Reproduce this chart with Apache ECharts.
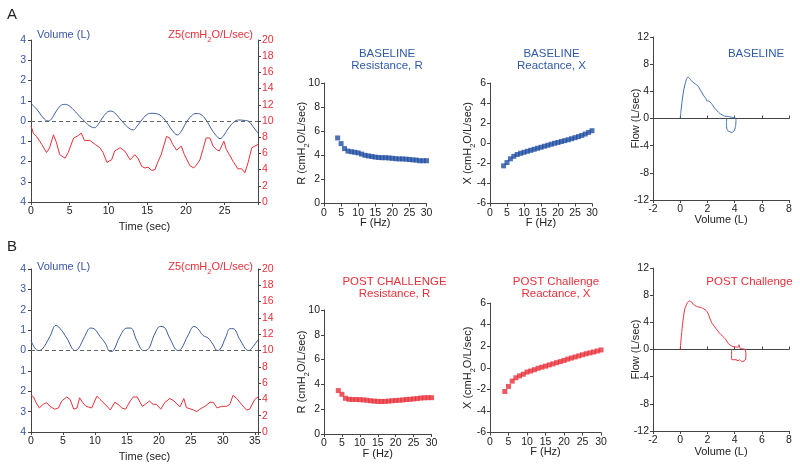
<!DOCTYPE html>
<html><head><meta charset="utf-8">
<script src="https://cdn.jsdelivr.net/npm/echarts@6/dist/echarts.min.js"></script>
<style>html,body{margin:0;padding:0;background:#fff}#c{width:800px;height:469px}</style>
</head><body><div id="c"></div>
<script>
// ---------- DATA ----------
// Panel A time series (baseline)
const volA_t = [0,0.8,1.6,2.2,2.6,3.2,3.8,4.3,4.8,5.5,6.3,7.0,7.6,8.2,8.7,9.3,9.9,10.3,10.8,11.5,12.2,12.8,13.2,13.7,14.3,14.9,15.5,16.2,16.8,17.5,18.2,18.9,19.4,20.0,20.7,21.3,21.9,22.6,23.3,23.9,24.4,24.9,25.5,26.2,26.8,27.5,28.1,28.7,29.3];
const volA_v = [0.87,0.55,0.15,0.0,0.08,0.45,0.75,0.82,0.78,0.55,0.22,-0.05,-0.25,-0.33,-0.15,0.2,0.45,0.49,0.4,0.1,-0.2,-0.4,-0.44,-0.25,0.05,0.3,0.38,0.36,0.25,-0.05,-0.45,-0.69,-0.5,-0.1,0.25,0.37,0.33,0.05,-0.4,-0.72,-0.87,-0.7,-0.35,-0.05,0.05,0.03,-0.02,-0.3,-0.6];
const z5A_t = [0,0.3,0.7,1.4,2.0,2.4,2.9,3.3,3.7,4.4,4.8,5.5,6.1,6.5,6.9,7.6,8.3,8.9,9.3,9.8,10.4,10.8,11.5,12.1,12.8,13.4,13.8,14.3,14.7,15.1,15.6,16.0,16.4,16.8,17.5,17.9,18.3,18.8,19.4,19.8,20.5,21.0,21.3,21.8,22.2,22.6,23.1,23.5,23.9,24.3,24.9,25.2,25.6,26.1,26.7,27.2,27.6,28.0,28.5,28.9,29.3];
const z5A_v = [9.4,8.5,8.1,7.1,6.1,6.7,8.3,7.3,5.85,5.4,6.1,7.9,8.2,8.5,7.6,7.6,7.1,6.7,6.1,4.9,5.2,6.3,6.7,6.3,5.2,5.85,5.4,4.4,4.2,4.3,3.9,4.0,5.0,5.85,8.1,7.9,7.1,6.4,6.9,5.85,4.5,4.2,4.5,5.2,6.5,7.9,7.9,6.9,6.5,6.3,7.5,6.5,5.85,5.0,4.1,4.1,3.6,4.8,6.7,6.9,7.1];
// Panel B time series (post challenge)
const volB_t = [0,1.1,1.7,2.96,3.9,4.5,5.6,6.9,7.4,8.4,9.3,9.85,10.8,11.6,12.4,12.9,13.9,15.0,15.6,16.5,17.6,18.2,19.4,20.2,20.8,21.7,23.0,23.5,24.6,25.5,26.1,26.9,27.7,28.5,29.1,29.5,30.5,31.1,31.6,32.7,34.0,34.3,35.5];
const volB_v = [0.49,0.0,0.05,0.69,1.23,1.1,0.61,0.0,0.08,0.69,1.1,1.07,0.69,0.36,-0.05,0.0,0.69,1.1,1.1,0.52,0.0,0.03,0.85,1.18,1.15,0.6,0.0,0.08,0.77,1.18,1.07,0.74,0.61,0.28,0.0,0.03,0.69,1.07,1.07,0.52,0.0,0.03,0.52];
const z5B_t = [0,0.4,0.8,1.3,1.9,2.45,2.96,3.7,4.3,4.8,5.6,6.1,6.7,7.2,7.6,8.1,8.6,9.5,10.3,10.8,11.6,12.4,13.1,13.6,14.2,14.8,15.5,16.0,16.6,17.4,17.9,18.5,19.1,19.6,20.3,20.9,21.7,22.2,23.3,23.9,24.3,25.4,25.9,26.4,27.2,28.0,28.5,29.1,29.8,30.6,31.1,31.6,32.2,32.9,33.7,34.2,35.0,35.5];
const z5B_v = [4.5,4.3,3.6,2.95,3.4,3.6,3.15,2.8,2.95,3.8,4.3,4.0,2.8,2.95,4.2,3.6,3.15,2.95,4.4,4.0,3.4,2.7,3.65,3.4,2.95,2.8,3.8,4.3,4.3,3.15,3.4,3.8,3.4,3.4,2.8,3.6,4.1,3.9,3.1,4.1,3.0,2.7,2.5,2.8,3.15,3.65,3.65,2.95,3.15,3.15,3.4,4.5,4.1,3.4,2.7,2.8,4.0,4.3];
// Oscillometry spectra
const freqHz = [4,5,6,7,8,9,10,11,12,13,14,15,16,17,18,19,20,21,22,23,24,25,26,27,28,29,30];
const resA = [5.44,4.97,4.56,4.35,4.3,4.25,4.2,4.1,4.0,3.95,3.9,3.85,3.82,3.8,3.8,3.78,3.75,3.72,3.7,3.7,3.68,3.65,3.62,3.6,3.55,3.55,3.55];
const reaA = [-2.25,-1.92,-1.55,-1.3,-1.12,-1.0,-0.9,-0.8,-0.7,-0.6,-0.5,-0.4,-0.3,-0.2,-0.1,0.0,0.08,0.17,0.26,0.35,0.45,0.56,0.66,0.78,0.92,1.08,1.25];
const resB = [3.5,3.2,2.88,2.8,2.78,2.78,2.77,2.75,2.72,2.68,2.65,2.63,2.62,2.63,2.65,2.68,2.7,2.72,2.75,2.78,2.8,2.83,2.86,2.9,2.92,2.93,2.93];
const reaB = [-2.2,-1.73,-1.24,-0.93,-0.75,-0.6,-0.4,-0.3,-0.18,-0.05,0.05,0.15,0.26,0.36,0.47,0.57,0.68,0.8,0.9,1.0,1.1,1.2,1.3,1.38,1.46,1.55,1.65];
// Flow-volume loops
const fvA_vol = [0,0.05,0.15,0.26,0.4,0.5,0.62,0.75,0.9,1.1,1.32,1.57,1.75,1.9,1.95,2.05,2.3,2.55,2.9,3.27,3.5,3.65,3.85,4.0,4.08,4.1,4.08,4.0,3.9,3.8,3.65,3.5,3.42,3.4,3.42];
const fvA_flow = [0,1.0,2.7,4.2,5.4,6.0,6.05,5.75,5.4,5.1,4.75,3.9,3.3,2.9,2.6,2.6,2.2,1.5,0.75,0.35,0.3,0.25,0.15,0.1,0.05,-0.3,-1.0,-1.7,-1.95,-2.05,-1.95,-1.8,-1.4,-0.6,0.05];
const fvB_vol = [0,0.1,0.22,0.34,0.52,0.66,0.84,0.96,1.2,1.57,1.9,2.06,2.3,2.55,2.9,3.3,3.55,3.8,4.15,4.3,4.32,4.4,4.6,4.77,4.83,4.82,4.7,4.5,4.35,4.25,4.1,3.95,3.8,3.78,3.78];
const fvB_flow = [0,2.3,4.5,6.0,6.85,7.15,7.0,6.65,6.35,6.15,5.75,5.25,4.0,3.3,2.4,1.6,0.85,0.5,0.35,0.4,0.7,0.2,0.1,0,-0.5,-1.4,-1.7,-1.75,-1.5,-1.65,-1.5,-1.5,-1.5,-0.7,0];
// Tick settings
const tsVolTicks = [-4,4,1];
const tsZTicks = [0,20,2];
const specXTicks = [0,30,5];
const resTicks = [0,10,2];
const reaTicks = [-6,6,2];
const fvXTicks = [-2,8,2];
const fvYTicks = [-12,12,4];

// ---------- STYLE ----------
const FONT = '"Liberation Sans", Arial, sans-serif';
const BLUE_TXT = '#2f5aa8', BLUE_AX = '#3a55a5', BLUE_LINE = '#3b5a9d', BLUE_MARK = '#1f4ea3', BLUE_FV = '#3f6db5';
const RED = '#e8303a', AX = '#444', TXT = '#222';
const zip = (a, b) => a.map((v, i) => [v, b[i]]);

const grids = [
  {left:31, top:40, width:227, height:162},
  {left:324, top:83, width:102.5, height:120.5},
  {left:490, top:83, width:102, height:120.5},
  {left:653, top:37, width:136, height:163},
  {left:31, top:269, width:227, height:163},
  {left:324, top:310, width:107.5, height:124},
  {left:490, top:303, width:111, height:129.5},
  {left:653, top:268, width:136, height:163}
];

const subRich = (color, size) => ({
  a: {fontSize: size, fontFamily: FONT, color: color, lineHeight: size + 5},
  s: {fontSize: size * 0.68, fontFamily: FONT, color: color, lineHeight: 5, verticalAlign: 'bottom'}
});

function axisBase(gi, ticks, labelColor, extra) {
  return Object.assign({
    gridIndex: gi, type: 'value', min: ticks[0], max: ticks[1], interval: ticks[2],
    nameMoveOverlap: false,
    splitLine: {show: false},
    axisLine: {show: true, onZero: false, lineStyle: {color: AX, width: 1}},
    axisTick: {show: true, length: 3, lineStyle: {color: AX}},
    axisLabel: {color: labelColor, fontSize: 10.5, fontFamily: FONT, margin: 4}
  }, extra || {});
}
const xName = (name, gap) => ({name: name, nameLocation: 'middle', nameGap: gap,
  nameTextStyle: {color: TXT, fontSize: 11, fontFamily: FONT}});
const yNameRich = (gap) => ({nameLocation: 'middle', nameGap: gap, nameRotate: 90,
  nameTextStyle: {color: TXT, rich: subRich(TXT, 11)}});

const mult = (m) => (v) => (Math.abs(v / m - Math.round(v / m)) < 1e-6 ? String(v) : '');

const xAxes = [
  axisBase(0, [0, 29.3, 5], TXT, Object.assign(xName('Time (sec)', 19), {axisLabel:{color:TXT,fontSize:10.5,fontFamily:FONT,margin:4,formatter:mult(5)}})),
  axisBase(1, specXTicks, TXT, xName('F (Hz)', 14)),
  axisBase(2, specXTicks, TXT, xName('F (Hz)', 14)),
  axisBase(3, fvXTicks, TXT, xName('Volume (L)', 14.5)),
  axisBase(3, fvXTicks, TXT, {position: 'top', axisLine: {show: true, onZero: true, lineStyle: {color: AX}}, axisLabel: {show: false}, axisTick: {show: true, length: 3, lineStyle:{color: AX}}}),
  axisBase(4, [0, 35.5, 5], TXT, Object.assign(xName('Time (sec)', 19), {axisLabel:{color:TXT,fontSize:10.5,fontFamily:FONT,margin:4,formatter:mult(5)}})),
  axisBase(5, specXTicks, TXT, xName('F (Hz)', 14)),
  axisBase(6, specXTicks, TXT, xName('F (Hz)', 14)),
  axisBase(7, fvXTicks, TXT, xName('Volume (L)', 15)),
  axisBase(7, fvXTicks, TXT, {position: 'top', axisLine: {show: true, onZero: true, lineStyle: {color: AX}}, axisLabel: {show: false}, axisTick: {show: true, length: 3, lineStyle:{color: AX}}})
];
const volAxis = (gi) => axisBase(gi, tsVolTicks, BLUE_AX, {position: 'left', axisLabel: {color: BLUE_AX, fontSize: 10.5, fontFamily: FONT, margin: 5, formatter: (v) => String(Math.abs(v))}});
const zAxis = (gi) => axisBase(gi, tsZTicks, RED, {position: 'right', axisLabel: {color: RED, fontSize: 10.5, fontFamily: FONT, margin: 4}});
const flowName = {name: 'Flow (L/sec)', nameLocation: 'middle', nameGap: 12, nameRotate: 90, nameTextStyle: {color: TXT, fontSize: 11, fontFamily: FONT}};
const yAxes = [
  volAxis(0), zAxis(0),
  axisBase(1, resTicks, TXT, Object.assign({name: '{a|R (cmH}{s|2}{a|O/L/sec)}'}, yNameRich(14))),
  axisBase(2, reaTicks, TXT, Object.assign({name: '{a|X (cmH}{s|2}{a|O/L/sec)}'}, yNameRich(14))),
  axisBase(3, fvYTicks, TXT, Object.assign({}, flowName)),
  volAxis(4), zAxis(4),
  axisBase(5, resTicks, TXT, Object.assign({name: '{a|R (cmH}{s|2}{a|O/L/sec)}'}, yNameRich(14))),
  axisBase(6, reaTicks, TXT, Object.assign({name: '{a|X (cmH}{s|2}{a|O/L/sec)}'}, yNameRich(14))),
  axisBase(7, fvYTicks, TXT, Object.assign({}, flowName))
];

const zeroMark = {silent: true, symbol: 'none', label: {show: false},
  lineStyle: {type: [4, 3], color: '#666', width: 1}, data: [{yAxis: 0}]};
const lineS = (xi, yi, data, color, extra) => Object.assign({type: 'line', xAxisIndex: xi, yAxisIndex: yi, data: data,
  showSymbol: false, symbol: 'none', lineStyle: {color: color, width: 1}, itemStyle: {color: color}, animation: false, z: 3}, extra || {});
const scatS = (xi, yi, data, color) => ({type: 'scatter', xAxisIndex: xi, yAxisIndex: yi, data: data,
  symbol: 'rect', symbolSize: 5, itemStyle: {color: color}, animation: false});

const series = [
  lineS(0, 0, zip(volA_t, volA_v), BLUE_LINE, {smooth: 0.4, markLine: zeroMark}),
  lineS(0, 1, zip(z5A_t, z5A_v), RED),
  scatS(1, 2, zip(freqHz, resA), BLUE_MARK),
  scatS(2, 3, zip(freqHz, reaA), BLUE_MARK),
  lineS(3, 4, zip(fvA_vol, fvA_flow), BLUE_FV, {smooth: 0.2}),
  lineS(5, 5, zip(volB_t, volB_v), BLUE_LINE, {smooth: 0.4, markLine: zeroMark}),
  lineS(5, 6, zip(z5B_t, z5B_v), RED),
  scatS(6, 7, zip(freqHz, resB), RED),
  scatS(7, 8, zip(freqHz, reaB), RED),
  lineS(8, 9, zip(fvB_vol, fvB_flow), RED, {smooth: 0.2})
];

const txt = (x, y, text, color, size, align, rich) => ({
  type: 'text', x: x, y: y, silent: true,
  style: {text: text, fill: color, font: size + 'px ' + FONT, fontSize: size, fontFamily: FONT,
    align: align || 'center', textAlign: align || 'center', verticalAlign: 'middle', textVerticalAlign: 'middle',
    rich: rich}
});
const graphics = [
  txt(7, 15, 'A', TXT, 15, 'left'),
  txt(7, 247, 'B', TXT, 15, 'left'),
  txt(37, 35, 'Volume (L)', BLUE_AX, 11, 'left'),
  txt(253, 35, '{a|Z5(cmH}{s|2}{a|O/L/sec)}', RED, 11, 'right', subRich(RED, 11)),
  txt(37, 267, 'Volume (L)', BLUE_AX, 11, 'left'),
  txt(253, 267, '{a|Z5(cmH}{s|2}{a|O/L/sec)}', RED, 11, 'right', subRich(RED, 11)),
  txt(387, 54, 'BASELINE', BLUE_TXT, 11.5),
  txt(387, 66, 'Resistance, R', BLUE_TXT, 11.5),
  txt(551.5, 54, 'BASELINE', BLUE_TXT, 11.5),
  txt(551.5, 66, 'Reactance, X', BLUE_TXT, 11.5),
  txt(756, 54, 'BASELINE', BLUE_TXT, 11.5),
  txt(394.5, 282, 'POST CHALLENGE', RED, 11.5),
  txt(394.5, 294, 'Resistance, R', RED, 11.5),
  txt(556, 282, 'POST Challenge', RED, 11.5),
  txt(556, 294, 'Reactance, X', RED, 11.5),
  txt(749.5, 282, 'POST Challenge', RED, 11.5)
];

const chart = echarts.init(document.getElementById('c'), null, {renderer: 'canvas'});
chart.setOption({
  backgroundColor: '#fff',
  animation: false,
  textStyle: {fontFamily: FONT},
  grid: grids,
  xAxis: xAxes,
  yAxis: yAxes,
  series: series,
  graphic: graphics
});
</script></body></html>
